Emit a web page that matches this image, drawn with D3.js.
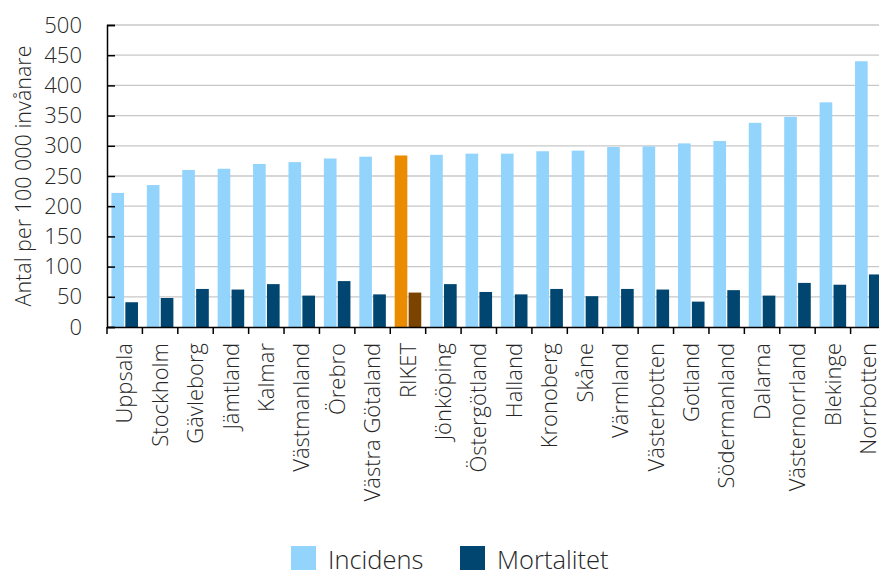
<!DOCTYPE html>
<html><head><meta charset="utf-8">
<script src="https://cdn.jsdelivr.net/npm/d3@7"></script>
<style>body{margin:0;background:#fff}svg{display:block}text{font-family:"Open Sans",sans-serif;font-weight:300;fill:#262626}</style>
</head><body><svg id="c" width="879" height="572"></svg>
<script>
const categories = ["Uppsala","Stockholm","Gävleborg","Jämtland","Kalmar","Västmanland","Örebro","Västra Götaland","RIKET","Jönköping","Östergötland","Halland","Kronoberg","Skåne","Värmland","Västerbotten","Gotland","Södermanland","Dalarna","Västernorrland","Blekinge","Norrbotten"];
const incidens = [222,235,260,262,270,273,279,282,284,285,287,287,291,292,298,299,304,308,338,348,372,440];
const mortalitet = [41,48,63,62,71,52,76,54,57,71,58,54,63,51,63,62,42,61,52,73,70,87];
const yTicks = [0,50,100,150,200,250,300,350,400,450,500];
const seriesNames = ["Incidens","Mortalitet"];
const colors = {Incidens:"#93d4fd", Mortalitet:"#004670", RIKETInc:"#eb8c00", RIKETMort:"#7a4400"};

const svg = d3.select("#c");
const mLeft = 107, mRight = 886, mTop = 25, mBottom = 327;
const x = d3.scaleBand().domain(categories).range([mLeft, mRight]).paddingInner(0).paddingOuter(0);
const y = d3.scaleLinear().domain([0,500]).range([mBottom, mTop]);
const bw = x.bandwidth();
const barW = bw*0.357, gap = bw*0.036, off = bw*0.125;

// gridlines
svg.append("g").selectAll("line").data(yTicks.filter(d=>d>0)).join("line")
  .attr("x1", mLeft).attr("x2", 879).attr("y1", d=>y(d)).attr("y2", d=>y(d))
  .attr("stroke","#c8c8c8").attr("stroke-width",1.3);

// bars
const g = svg.append("g");
g.selectAll("rect.inc").data(categories).join("rect").attr("class","inc")
  .attr("x", d=>x(d)+off).attr("width", barW)
  .attr("y", (d,i)=>y(incidens[i])).attr("height",(d,i)=>y(0)-y(incidens[i]))
  .attr("fill", d=>d==="RIKET"?colors.RIKETInc:colors.Incidens);
g.selectAll("rect.mort").data(categories).join("rect").attr("class","mort")
  .attr("x", d=>x(d)+off+barW+gap).attr("width", barW)
  .attr("y", (d,i)=>y(mortalitet[i])).attr("height",(d,i)=>y(0)-y(mortalitet[i]))
  .attr("fill", d=>d==="RIKET"?colors.RIKETMort:colors.Mortalitet);

// y axis
const ya = svg.append("g").attr("transform",`translate(${mLeft},0)`)
  .call(d3.axisLeft(y).tickValues(yTicks).tickSize(-8).tickPadding(25));
ya.select(".domain").attr("stroke","#000").attr("stroke-width",1.5);
ya.selectAll(".tick line").attr("stroke","#000").attr("stroke-width",1.5);
ya.selectAll("text").style("font-size","22px").attr("fill","#262626").attr("font-family",null);

// x axis
const xa = svg.append("g").attr("transform",`translate(0,${mBottom})`)
  .call(d3.axisBottom(x).tickSize(0).tickFormat(d=>d));
xa.select(".domain").attr("stroke","#000").attr("stroke-width",1.5);
xa.selectAll(".tick text").attr("transform","rotate(-90)").attr("text-anchor","end")
  .attr("x",-16).attr("y",0).attr("dy","0.35em").style("font-size","22px").attr("fill","#262626").attr("font-family",null);
// x ticks at band boundaries
svg.append("g").selectAll("line").data(categories).join("line")
  .attr("x1", d=>x(d)).attr("x2", d=>x(d)).attr("y1", mBottom).attr("y2", mBottom+7)
  .attr("stroke","#000").attr("stroke-width",1.5);

// y title
svg.append("text").attr("transform","translate(31,176) rotate(-90)").attr("text-anchor","middle")
  .style("font-size","21.5px").text("Antal per 100 000 invånare");

// legend
const leg = svg.append("g");
const legX = [291, 460];
seriesNames.forEach((s,i)=>{
  leg.append("rect").attr("x",legX[i]).attr("y",546).attr("width",25).attr("height",24).attr("fill",colors[s]);
  leg.append("text").attr("x",legX[i]+37).attr("y",569).style("font-size","25.5px").text(s);
});
</script></body></html>
